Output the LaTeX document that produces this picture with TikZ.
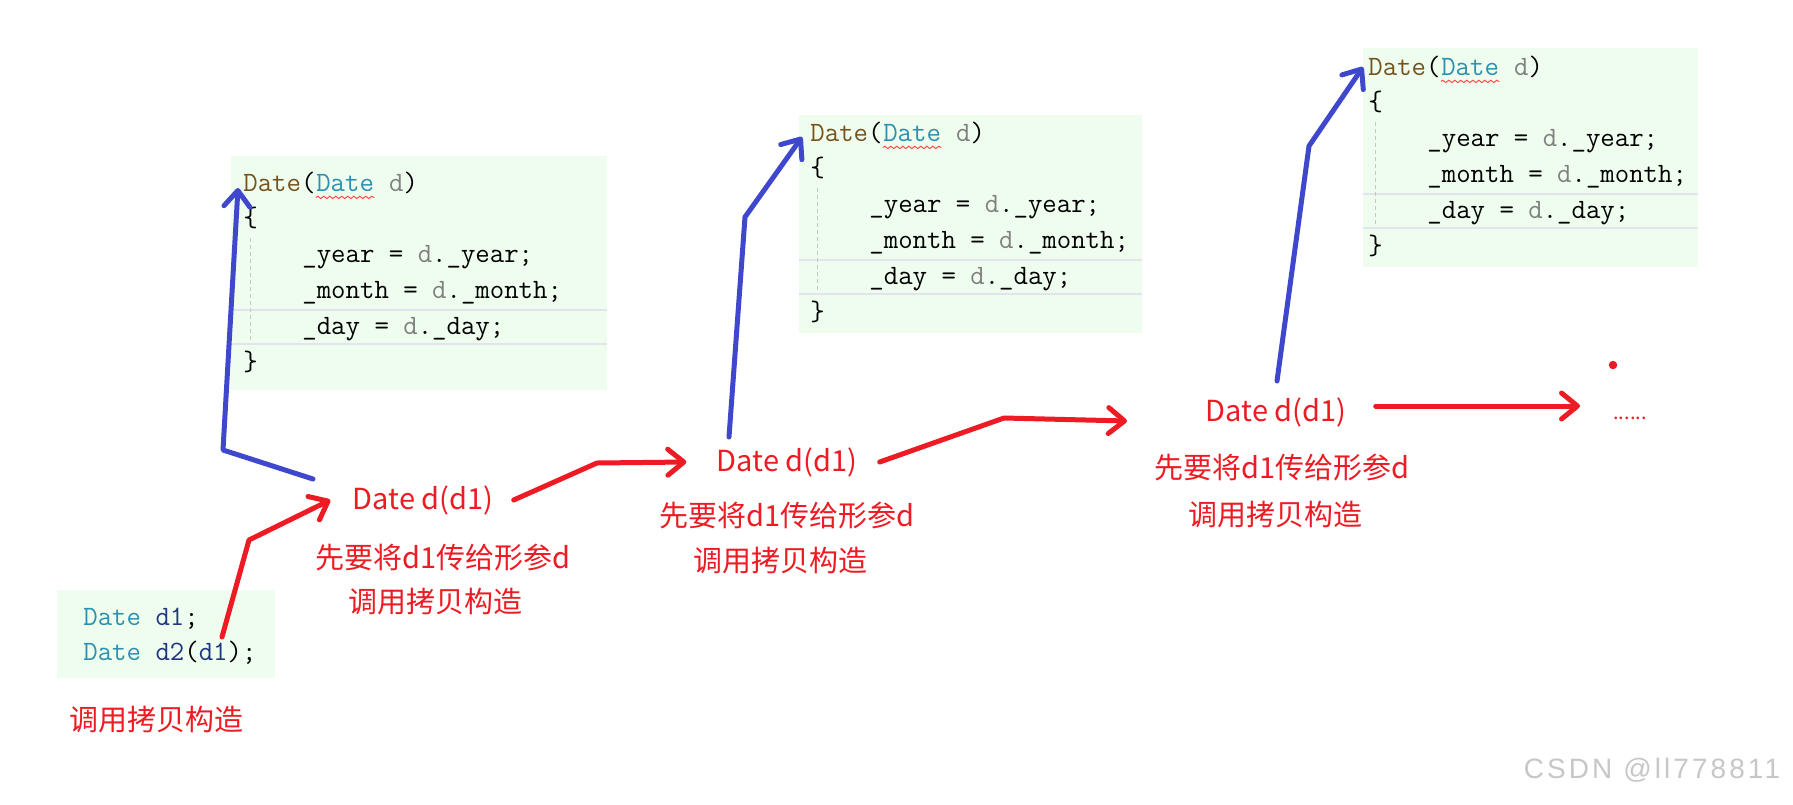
\documentclass[tikz,border=0pt]{standalone}
\usepackage{fontspec}
\usepackage{xcolor}
\usepackage{tikz}
\usetikzlibrary{arrows.meta,calc,positioning,decorations.pathmorphing}
\newfontfamily\cjk{Noto Sans CJK SC}
\newfontfamily\markfont[LetterSpace=11]{Liberation Sans}
\definecolor{markred}{HTML}{ED1C24}
\definecolor{markblue}{HTML}{3F48CC}
\definecolor{codefill}{HTML}{EFFDEF}
\definecolor{sepgray}{HTML}{E3E3EE}
\definecolor{fnbrown}{HTML}{74531F}
\definecolor{typeteal}{HTML}{2B91AF}
\definecolor{paramgray}{HTML}{808080}
\definecolor{localnavy}{HTML}{1F377F}
\tikzset{
  codeline/.style={
    anchor=west,
    inner sep=0pt,
    font=\fontsize{14}{16}\selectfont\ttfamily,
    text height=11pt,
    text depth=3pt
  },
  sepline/.style={draw=sepgray, line width=1pt},
  guide/.style={draw=black!22, line width=0.5pt, dash pattern=on 2pt off 1.5pt},
  squiggle/.style={draw=red!70, line width=0.5pt, decorate,
    decoration={snake, amplitude=0.6pt, segment length=3pt}},
  redlabel/.style={font=\cjk\fontsize{14.5}{17}\selectfont, text=markred, inner sep=0pt},
  redarrow/.style={draw=markred, line width=2.5pt, line cap=round, line join=round,
    -{Straight Barb[length=8pt, width=13pt, round]}},
  bluearrow/.style={draw=markblue, line width=2.5pt, line cap=round, line join=round,
    -{Straight Barb[length=8pt, width=13pt, round]}},
  watermark/.style={font=\markfont\fontsize{14}{16}\selectfont, text=black!22, inner sep=0pt}
}
% #1 name, #2-#5 box left/top/right/bottom, #6/#7 first text line
\newcommand{\codebox}[7]{%
  \fill[codefill] (#2,#3) rectangle (#4,#5);
  \draw[sepline] (#2,#7+126.5) -- (#4,#7+126.5);
  \draw[sepline] (#2,#7+160.5) -- (#4,#7+160.5);
  \draw[guide] (#6+7,#7+55) -- (#6+7,#7+160);
  \node[codeline] (#1-fn) at (#6,#7) {\color{fnbrown}Date\color{black}(};
  \node[codeline, right=0pt of #1-fn, text=typeteal] (#1-ty) {Date};
  \node[codeline, right=0pt of #1-ty] (#1-pa) {~\color{paramgray}d\color{black})};
  \draw[squiggle] (#1-ty.south west) -- (#1-ty.south east);
  \node[codeline] (#1-ob) at (#6,#7+35.8) {\{};
  \node[codeline] (#1-yr) at (#6+59,#7+71.6) {\_year = {\color{paramgray}d}.\_year;};
  \node[codeline] (#1-mo) at (#6+59,#7+107.4) {\_month = {\color{paramgray}d}.\_month;};
  \node[codeline] (#1-dy) at (#6+59,#7+143.2) {\_day = {\color{paramgray}d}.\_day;};
  \node[codeline] (#1-cb) at (#6,#7+179) {\}};
}

\begin{document}
\begin{tikzpicture}[x=0.5pt,y=-0.5pt]
\useasboundingbox (0,0) rectangle (1793,804);
\fill[white] (0,0) rectangle (1793,804);

% copy constructor, three times
\foreach \n/\l/\t/\r/\b/\tx/\ty in {b1/231/156/607/390/243/183,
                                     b2/799/115/1142/333/810/133,
                                     b3/1363/48/1698/267/1368/67}
  {\codebox{\n}{\l}{\t}{\r}{\b}{\tx}{\ty}}

% call site
\fill[codefill] (57,590) rectangle (275,678);
\node[codeline] (decl1) at (83,617) {\color{typeteal}Date \color{localnavy}d1\color{black};};
\node[codeline] (decl2) at (83,652) {\color{typeteal}Date \color{localnavy}d2\color{black}(\color{localnavy}d1\color{black});};
\node[redlabel] (callnote) at (156,720) {调用拷贝构造};

% red notes
\node[redlabel] (lbl1) at (423,500) {Date d(d1)};
\node[redlabel] (pass1) at (443,557) {先要将d1传给形参d};
\node[redlabel] (copy1) at (435,602) {调用拷贝构造};
\node[redlabel] (lbl2) at (787,462) {Date d(d1)};
\node[redlabel] (pass2) at (787,515) {先要将d1传给形参d};
\node[redlabel] (copy2) at (780,561) {调用拷贝构造};
\node[redlabel] (lbl3) at (1276,412) {Date d(d1)};
\node[redlabel] (pass3) at (1282,467) {先要将d1传给形参d};
\node[redlabel] (copy3) at (1275,515) {调用拷贝构造};
\node[redlabel, font=\cjk\fontsize{10}{12}\selectfont] (more) at (1630,418) {......};
\node[circle, fill=markred, inner sep=1.5pt] (speck) at (1613,365) {};

% hand drawn arrows
\coordinate (d1ref) at (222,637);
\coordinate (bendA) at (249,540);
\coordinate (upA) at (313,479);
\coordinate (bendB) at (223,450);
\coordinate (bendC) at (597,463);
\coordinate (upB) at (729,437);
\coordinate (bendD) at (745,217);
\coordinate (bendE) at (1004,418);
\coordinate (tipE) at (1127,421);
\coordinate (upC) at (1277,381);
\coordinate (bendF) at (1309,146);
\coordinate (tipG) at (1580,406);

\draw[redarrow] (d1ref) -- (bendA) -- ([xshift=-11pt]lbl1.west);
\draw[bluearrow] (upA) -- (bendB) -- ([xshift=-2.5pt,yshift=-2.5pt]b1-fn.west);
\draw[redarrow] ([xshift=10pt]lbl1.east) -- (bendC) -- ([xshift=-15pt]lbl2.west);
\draw[bluearrow] (upB) -- (bendD) -- ([xshift=-4pt,yshift=-2pt]b2-fn.west);
\draw[redarrow] ([xshift=11pt]lbl2.east) -- (bendE) -- (tipE);
\draw[bluearrow] (upC) -- (bendF) -- ([xshift=-2.5pt]b3-fn.west);
\draw[redarrow] ([xshift=14.5pt,yshift=3pt]lbl3.east) -- (tipG);

\node[watermark] (mark) at (1652,770) {CSDN @ll778811};
\end{tikzpicture}
\end{document}
